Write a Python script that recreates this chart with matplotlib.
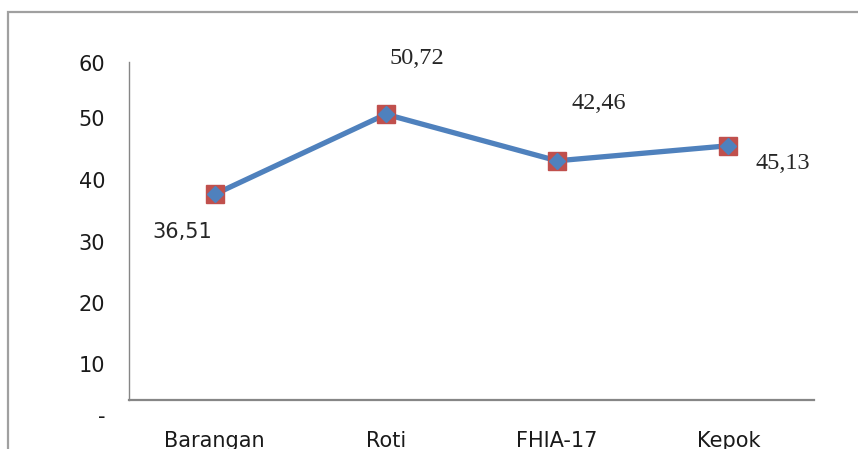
import matplotlib
matplotlib.use('Agg')
import matplotlib.pyplot as plt
import matplotlib.transforms as mtransforms
from matplotlib.patches import Rectangle

# data
varieties = ['Barangan', 'Roti', 'FHIA-17', 'Kepok']
values = [36.51, 50.72, 42.46, 45.13]
value_labels = ['36,51', '50,72', '42,46', '45,13']
y_ticks = [0, 10, 20, 30, 40, 50, 60]
y_tick_labels = ['-', '10', '20', '30', '40', '50', '60']

# label offsets in points (x, y) from each point
label_offsets = [(-23, -27), (22, 40), (30, 41), (39, -13)]
# the y labels in the source sit a bit low (pixels)
ytick_shift = [15, 20, 16, 11, 5, 0, 1]

fig = plt.figure(figsize=(8.58, 4.49), dpi=100)
ax = fig.add_axes([0.1503, 0.109, 0.7984, 0.753])

# outer chart border
fig.patches.append(Rectangle((8 / 858, -0.1), 1.2, 1.073, transform=fig.transFigure,
                             fill=False, edgecolor='#a0a0a0', linewidth=1.6))

x = list(range(len(varieties)))
ax.plot(x, values, color='#4f81bd', linewidth=3.8, marker='s', markersize=12.5,
        markerfacecolor='#c0504d', markeredgecolor='#c0504d', zorder=3)
ax.plot(x, values, linestyle='none', marker='D', markersize=8.5,
        markerfacecolor='#4f81bd', markeredgecolor='#4f81bd', zorder=4)

for i in range(len(values)):
    if i == 0:
        fam = ['Liberation Sans Narrow', 'DejaVu Sans']
        sz = 15
    else:
        fam = 'Liberation Serif'
        sz = 17.5
    ax.annotate(value_labels[i], (x[i], values[i]), xytext=label_offsets[i],
                textcoords='offset points', ha='center', va='center',
                fontsize=sz, family=fam, color='#262626')

ax.set_xlim(-0.5, 3.5)
ax.set_ylim(0, 60)
ax.set_yticks(y_ticks)
ax.set_yticklabels(y_tick_labels, family=['Liberation Sans Narrow', 'DejaVu Sans'], fontsize=15,
                   color='#1a1a1a')
ax.set_xticks(x)
ax.set_xticklabels(varieties, family=['Liberation Sans Narrow', 'DejaVu Sans'], fontsize=15,
                   color='#1a1a1a')
ax.tick_params(axis='y', length=0, pad=17)
ax.tick_params(axis='x', length=0, pad=22)

for lab, d in zip(ax.get_yticklabels(), ytick_shift):
    lab.set_transform(lab.get_transform() +
                      mtransforms.ScaledTranslation(0, -d / 100, fig.dpi_scale_trans))

for s in ['top', 'right']:
    ax.spines[s].set_visible(False)
ax.spines['left'].set_color('#868686')
ax.spines['bottom'].set_color('#868686')
ax.spines['left'].set_linewidth(1.0)
ax.spines['bottom'].set_linewidth(1.6)

fig.savefig('out.png', dpi=100)
